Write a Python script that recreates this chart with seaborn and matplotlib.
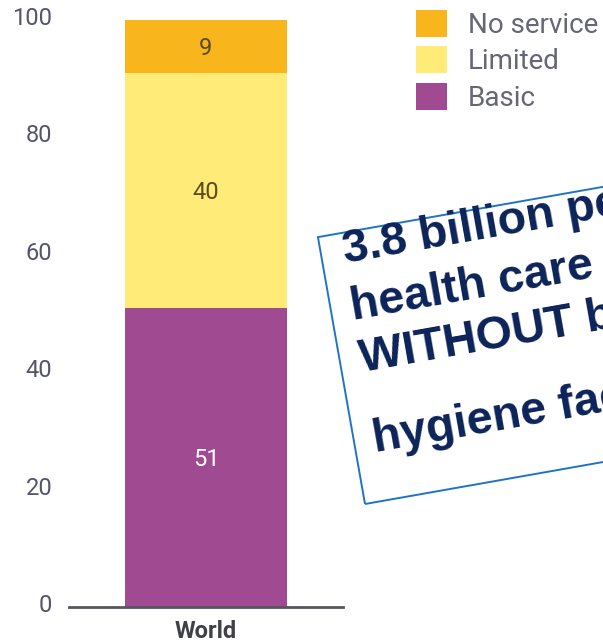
import matplotlib
matplotlib.use("Agg")
import matplotlib.pyplot as plt
import matplotlib.transforms as mtransforms
from matplotlib.patches import Patch, Rectangle
import seaborn as sns
import pandas as pd

# ---- data ----
categories = ["World"]
basic = [51]
limited = [40]
no_service = [9]
legend_order = ["No service", "Limited", "Basic"]
yticks = [0, 20, 40, 60, 80, 100]
note_lines = ["3.8 billion people use", "health care facilities", "WITHOUT basic", "hygiene facilities"]

colors = {"No service": "#F8B51C", "Limited": "#FFEB78", "Basic": "#9F4A91"}

sns.set_style("white")
plt.rcParams["font.family"] = ["Roboto", "DejaVu Sans"]

W, H = 603, 644
fig = plt.figure(figsize=(W / 100, H / 100), dpi=100)
ax = fig.add_axes([69 / W, 37 / H, 274 / W, 587 / H])

df = pd.DataFrame({"region": categories, "basic": basic,
                   "limited": limited, "no_service": no_service})
df["top_limited"] = df["basic"] + df["limited"]
df["top_none"] = df["top_limited"] + df["no_service"]

sns.barplot(data=df, x="region", y="top_none", color=colors["No service"],
            width=1.0, saturation=1, ax=ax, linewidth=0)
sns.barplot(data=df, x="region", y="top_limited", color=colors["Limited"],
            width=1.0, saturation=1, ax=ax, linewidth=0)
sns.barplot(data=df, x="region", y="basic", color=colors["Basic"],
            width=1.0, saturation=1, ax=ax, linewidth=0)

# segment labels
for i in range(len(categories)):
    segs = [(0, basic[i], "white"),
            (basic[i], limited[i], "#5b4a22"),
            (basic[i] + limited[i], no_service[i], "#5b4a22")]
    for bottom, val, col in segs:
        ax.text(i, bottom + val / 2 - 0.4, str(val), ha="center", va="center",
                fontsize=17, color=col)

ax.set_xlim(-0.85, 0.85)
ax.set_ylim(0, 100)
ax.set_yticks(yticks)
ax.set_yticklabels([str(t) for t in yticks])
ax.set_xlabel("")
ax.set_ylabel("")
sns.despine(ax=ax, left=True)
ax.spines["bottom"].set_color("#55555f")
ax.spines["bottom"].set_linewidth(2)
ax.tick_params(axis="both", length=0)
ax.tick_params(axis="y", pad=12, labelsize=17, labelcolor="#55556a")
ax.tick_params(axis="x", pad=9, labelsize=17, labelcolor="#404048")
for lab in ax.get_xticklabels():
    lab.set_fontweight("bold")
off = mtransforms.ScaledTranslation(0, 4 / 100, fig.dpi_scale_trans)
for lab in ax.get_yticklabels():
    lab.set_transform(lab.get_transform() + off)

# legend
handles = [Patch(facecolor=colors[n], edgecolor="none", label=n) for n in legend_order]
fig.legend(handles=handles, loc="upper left", bbox_to_anchor=(416 / W, 1 - 10 / H),
           frameon=False, fontsize=20, handlelength=1.11, handleheight=1.11,
           handletextpad=0.75, labelspacing=0.27, borderpad=0, borderaxespad=0,
           labelcolor="#666677")

# rotated note box (pixel frame, y up)
tr = mtransforms.Affine2D().rotate_deg(10).translate(365, 140)
rect = Rectangle((0, 0), 420, 271, transform=tr, fill=False,
                 edgecolor="#1f74c4", linewidth=1.4)
fig.add_artist(rect)
baselines = [241, 183, 131, 49]
lefts = [22, 20, 20, 19]
for s, u, v in zip(note_lines, lefts, baselines):
    fig.text(u, v, s, transform=tr, rotation=10, rotation_mode="anchor",
             ha="left", va="baseline", fontsize=33.5, fontweight="bold",
             color="#0c2359", family=["Liberation Sans", "DejaVu Sans"])

fig.savefig("out.png", dpi=100)
